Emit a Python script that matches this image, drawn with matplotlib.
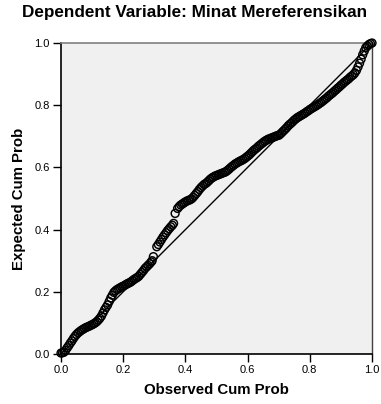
import matplotlib
matplotlib.use("Agg")
import matplotlib.pyplot as plt

title = "Dependent Variable: Minat Mereferensikan"
x_label = "Observed Cum Prob"
y_label = "Expected Cum Prob"
tick_values = [0.0, 0.2, 0.4, 0.6, 0.8, 1.0]
tick_labels = ["0.0", "0.2", "0.4", "0.6", "0.8", "1.0"]

observed = [
    0.000, 0.005, 0.010, 0.015, 0.020, 0.025, 0.030, 0.035, 0.040, 0.045,
    0.050, 0.055, 0.060, 0.065, 0.070, 0.075, 0.080, 0.085, 0.090, 0.095,
    0.100, 0.105, 0.110, 0.115, 0.120, 0.125, 0.130, 0.135, 0.140, 0.145,
    0.150, 0.155, 0.160, 0.165, 0.170, 0.175, 0.180, 0.185, 0.190, 0.195,
    0.200, 0.205, 0.210, 0.215, 0.220, 0.225, 0.230, 0.235, 0.240, 0.245,
    0.250, 0.255, 0.260, 0.265, 0.270, 0.275, 0.280, 0.285, 0.290, 0.293,
    0.297, 0.308, 0.313, 0.318, 0.323, 0.328, 0.333, 0.338, 0.343, 0.348,
    0.353, 0.358, 0.362, 0.367, 0.375, 0.380, 0.385, 0.390, 0.395, 0.400,
    0.405, 0.410, 0.415, 0.420, 0.425, 0.430, 0.435, 0.440, 0.445, 0.450,
    0.455, 0.460, 0.465, 0.470, 0.475, 0.480, 0.485, 0.490, 0.495, 0.500,
    0.505, 0.510, 0.515, 0.520, 0.525, 0.530, 0.535, 0.540, 0.545, 0.550,
    0.555, 0.560, 0.565, 0.570, 0.575, 0.580, 0.585, 0.590, 0.595, 0.600,
    0.605, 0.610, 0.615, 0.620, 0.625, 0.630, 0.635, 0.640, 0.645, 0.650,
    0.655, 0.660, 0.665, 0.670, 0.675, 0.680, 0.685, 0.690, 0.695, 0.700,
    0.705, 0.710, 0.715, 0.720, 0.725, 0.730, 0.735, 0.740, 0.745, 0.750,
    0.755, 0.760, 0.765, 0.770, 0.775, 0.780, 0.785, 0.790, 0.795, 0.800,
    0.805, 0.810, 0.815, 0.820, 0.825, 0.830, 0.835, 0.840, 0.845, 0.850,
    0.855, 0.860, 0.865, 0.870, 0.875, 0.880, 0.885, 0.890, 0.895, 0.900,
    0.905, 0.910, 0.915, 0.920, 0.925, 0.930, 0.935, 0.940, 0.945, 0.950,
    0.955, 0.960, 0.965, 0.970, 0.975, 0.980, 0.985, 0.990, 0.995, 1.000]
expected = [
    0.003, 0.004, 0.006, 0.012, 0.020, 0.027, 0.035, 0.042, 0.050, 0.057,
    0.063, 0.068, 0.072, 0.076, 0.079, 0.082, 0.085, 0.087, 0.089, 0.092,
    0.094, 0.097, 0.100, 0.104, 0.109, 0.115, 0.122, 0.132, 0.142, 0.150,
    0.158, 0.169, 0.180, 0.189, 0.198, 0.203, 0.207, 0.210, 0.213, 0.216,
    0.218, 0.221, 0.224, 0.227, 0.229, 0.232, 0.236, 0.240, 0.243, 0.246,
    0.250, 0.256, 0.262, 0.268, 0.275, 0.280, 0.285, 0.290, 0.296, 0.300,
    0.313, 0.345, 0.352, 0.360, 0.368, 0.376, 0.383, 0.390, 0.397, 0.403,
    0.409, 0.414, 0.420, 0.452, 0.468, 0.474, 0.479, 0.482, 0.486, 0.489,
    0.492, 0.494, 0.496, 0.499, 0.504, 0.510, 0.516, 0.522, 0.529, 0.535,
    0.540, 0.545, 0.548, 0.552, 0.557, 0.562, 0.566, 0.569, 0.572, 0.574,
    0.576, 0.578, 0.580, 0.582, 0.584, 0.586, 0.590, 0.594, 0.599, 0.603,
    0.607, 0.611, 0.614, 0.617, 0.620, 0.622, 0.625, 0.628, 0.632, 0.636,
    0.640, 0.645, 0.650, 0.655, 0.659, 0.663, 0.668, 0.672, 0.676, 0.680,
    0.684, 0.687, 0.690, 0.692, 0.694, 0.696, 0.698, 0.700, 0.702, 0.703,
    0.707, 0.712, 0.717, 0.722, 0.727, 0.733, 0.738, 0.742, 0.747, 0.752,
    0.756, 0.760, 0.763, 0.766, 0.769, 0.772, 0.775, 0.779, 0.782, 0.786,
    0.789, 0.792, 0.795, 0.798, 0.801, 0.805, 0.808, 0.812, 0.816, 0.820,
    0.824, 0.829, 0.833, 0.837, 0.841, 0.846, 0.850, 0.855, 0.859, 0.864,
    0.868, 0.873, 0.877, 0.881, 0.885, 0.890, 0.894, 0.898, 0.904, 0.912,
    0.923, 0.935, 0.948, 0.962, 0.974, 0.985, 0.990, 0.995, 0.998, 1.000]

plt.rcParams['font.family'] = ['Liberation Sans', 'DejaVu Sans']

fig = plt.figure(figsize=(3.81, 4.04), dpi=100)
ax = fig.add_axes([61/381, 1 - 354/404, 311/381, 311/404])
ax.set_facecolor('#f0f0f0')

ax.plot([0, 1], [0, 1], color='black', lw=1.0, zorder=2)
ax.scatter(observed, expected, s=32, facecolors='none', edgecolors='black',
           linewidths=1.05, zorder=3, clip_on=False)

ax.set_xlim(0, 1)
ax.set_ylim(0, 1)
ax.set_xticks(tick_values)
ax.set_xticklabels(tick_labels)
ax.set_yticks(tick_values)
ax.set_yticklabels(tick_labels)
ax.tick_params(axis='both', direction='out', length=6, width=1, labelsize=8,
               color='black', pad=2)

for side in ['left', 'bottom']:
    ax.spines[side].set_color('black')
    ax.spines[side].set_linewidth(1.2)
ax.spines['top'].set_color('#808080')
ax.spines['top'].set_linewidth(1.2)
ax.spines['right'].set_color('#404040')
ax.spines['right'].set_linewidth(1.0)

ax.set_xlabel(x_label, fontsize=10.8, fontweight='bold', labelpad=6)
ax.set_ylabel(y_label, fontsize=10.8, fontweight='bold', labelpad=6)
fig.text(0.51, 1 - 12/404, title, ha='center', va='center', fontsize=12.3,
         fontweight='bold')

fig.savefig('out.png', dpi=100)
